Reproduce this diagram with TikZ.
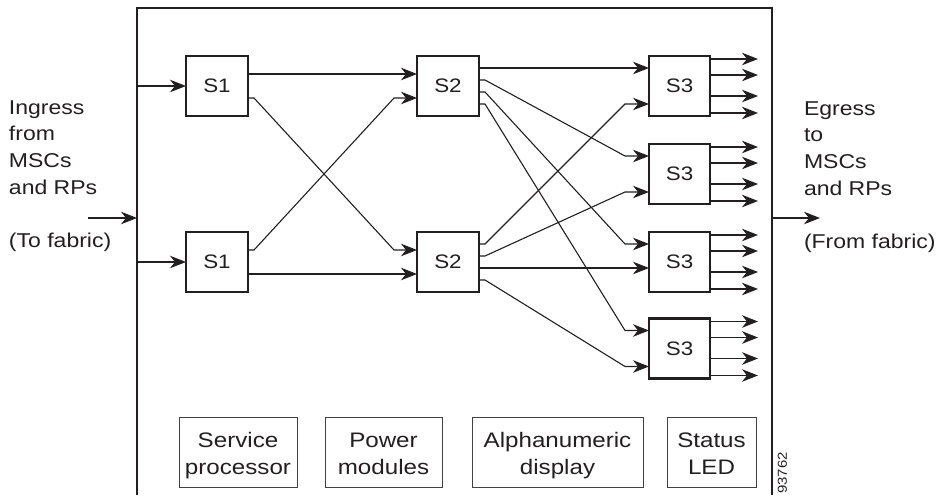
\documentclass[tikz,border=0pt]{standalone}
\usepackage{fontspec}
\setmainfont{Liberation Sans}[FakeStretch=1.15]
\usetikzlibrary{arrows.meta,calc}
\definecolor{ink}{RGB}{35,31,32}
\newcommand\twol[2]{\rule{0pt}{23pt}#1\\#2\rule[-6pt]{0pt}{6pt}}
\begin{document}
\begin{tikzpicture}[x=1pt,y=-1pt,
  sbox/.style={draw=ink,line width=2.6pt,minimum width=62pt,minimum height=60pt,inner sep=0pt,outer sep=0pt,fill=white,font=\fontsize{19.5}{23}\selectfont,text=ink},
  bbox/.style={draw=ink!85,line width=0.9pt,inner sep=0pt,outer sep=0pt,minimum height=70pt,align=center,font=\fontsize{21}{27}\selectfont,text=ink},
  side/.style={inner sep=0pt,outer sep=0pt,align=left,anchor=north west,font=\fontsize{20}{26.6}\selectfont,text=ink},
  conn/.style={draw=ink,line width=1.1pt},
  arr/.style={conn,-{Stealth[length=16pt,width=12.5pt,inset=5pt]}},
]
\useasboundingbox (0,0) rectangle (939,495);
% frame
\coordinate (fbl) at (137,495); \coordinate (ftl) at (137,8);
\coordinate (ftr) at (772,8); \coordinate (fbr) at (772,495);
\draw[conn] (fbl) -- (ftl) -- (ftr) -- (fbr);
% switch boxes
\node[sbox] (s1a) at (217,86) {S1};
\node[sbox] (s1b) at (217,262) {S1};
\node[sbox] (s2a) at (448,86) {S2};
\node[sbox] (s2b) at (448,262) {S2};
\node[sbox,minimum width=61pt] (s3a) at (679.5,86) {S3};
\node[sbox,minimum width=61pt] (s3b) at (679.5,174) {S3};
\node[sbox,minimum width=61pt] (s3c) at (679.5,262) {S3};
\node[sbox,minimum width=61pt] (s3d) at (679.5,348.5) {S3};
% ingress / egress
\coordinate (inS) at (88,218); \coordinate (inE) at (137,218);
\draw[arr] (inS) -- (inE);
\coordinate (egS) at (772,218); \coordinate (egE) at (820,218);
\draw[arr] (egS) -- (egE);
% S1 inputs
\draw[arr] (s1a.west -| ftl) -- (s1a.west);
\draw[arr] (s1b.west -| ftl) -- (s1b.west);
% S1 -> S2
\draw[arr] ($(s1a.east)+(0,-12)$) -- ($(s2a.west)+(0,-12)$);
\draw[arr] ($(s1a.east)+(0,12)$) -- ++(6,0) -- ($(s2b.west)+(-23,-12)$) -- ($(s2b.west)+(0,-12)$);
\draw[arr] ($(s1b.east)+(0,-12)$) -- ++(6,0) -- ($(s2a.west)+(-23,12)$) -- ($(s2a.west)+(0,12)$);
\draw[arr] ($(s1b.east)+(0,12)$) -- ($(s2b.west)+(0,12)$);
% S2 -> S3
\draw[arr] ($(s2a.east)+(0,-18)$) -- ($(s3a.west)+(0,-18)$);
\draw[arr] ($(s2b.east)+(0,6)$) -- ($(s3c.west)+(0,6)$);
\foreach \src/\so/\dst/\dof in {a/-6/b/-18, a/6/c/-18, a/18/d/-18, b/-18/a/18, b/-6/b/18, b/18/d/18}{
  \draw[arr] ($(s2\src.east)+(0,\so)$) -- ++(6,0) -- ($(s3\dst.west)+(-24,\dof)$) -- ($(s3\dst.west)+(0,\dof)$);
}
% S3 outputs
\foreach \s in {a,b,c,d}{
  \foreach \o in {-27,-11,10,27}{
    \draw[arr] ($(s3\s.east)+(0,\o)$) -- ++(48,0);
  }
}
% side labels
\node[side] (ing) at (9,100.5) {Ingress\\from\\MSCs\\and RPs\\[26.6pt](To fabric)};
\node[side] (egr) at (804,101.5) {Egress\\to\\MSCs\\and RPs\\[26.6pt](From fabric)};
% bottom boxes
\node[bbox,minimum width=118pt] (sp) at (238,452) {\twol{Service}{processor}};
\node[bbox,minimum width=117pt] (pm) at (383.5,452) {\twol{Power}{modules}};
\node[bbox,minimum width=171pt] (ad) at (557.5,452) {\twol{Alphanumeric}{display}};
\node[bbox,minimum width=89pt] (sl) at (711.5,452) {\twol{Status}{LED}};
% figure id
\node[rotate=90,anchor=east,inner sep=0pt,font=\fontsize{13}{15}\selectfont,text=ink] (fid) at (782.5,452) {93762};
\end{tikzpicture}
\end{document}
